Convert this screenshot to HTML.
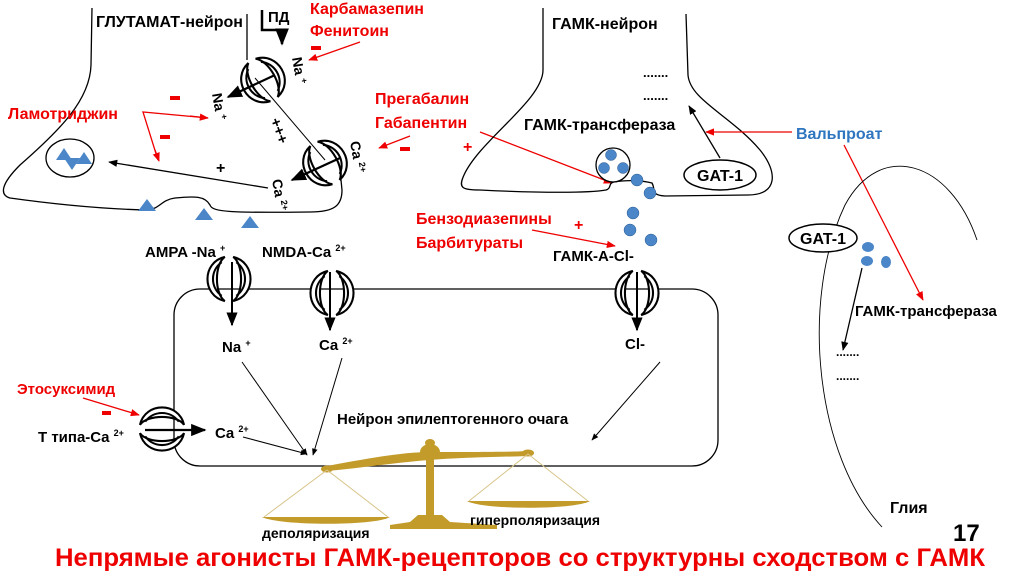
<!DOCTYPE html>
<html><head><meta charset="utf-8"><style>
html,body{margin:0;padding:0;background:#fff;}
svg{display:block;font-family:"Liberation Sans","DejaVu Sans",sans-serif;font-weight:bold;}
</style></head><body>
<svg width="1024" height="574" viewBox="0 0 1024 574" xmlns="http://www.w3.org/2000/svg">
<defs>
<marker id="ab" viewBox="0 0 10 10" refX="9" refY="5" markerWidth="7" markerHeight="7" orient="auto"><path d="M0,1 L10,5 L0,9 Z" fill="#000"/></marker>
<marker id="ar" viewBox="0 0 10 10" refX="9" refY="5" markerWidth="7" markerHeight="7" orient="auto"><path d="M0,1 L10,5 L0,9 Z" fill="#e00"/></marker>
<g id="ch">
<path d="M-4,-21 C-26,-16 -26,16 -4,21 C-14,14 -14,-14 -4,-21 Z" fill="#fff" stroke="#000" stroke-width="2"/>
<path d="M-7,-16 C-18,-8 -18,8 -7,16" fill="none" stroke="#000" stroke-width="2"/>
<path d="M4,-21 C26,-16 26,16 4,21 C14,14 14,-14 4,-21 Z" fill="#fff" stroke="#000" stroke-width="2"/>
<path d="M7,-16 C18,-8 18,8 7,16" fill="none" stroke="#000" stroke-width="2"/>
</g>
</defs>

<!-- Glutamate neuron outline -->
<path d="M92,8 L91,65 C90,100 60,130 20,165 C0,185 0,195 10,198 C60,205 110,209 145,210 C160,210 160,200 175,198 C195,196 205,196 210,205 C212,212 230,213 310,212 C335,212 342,205 342,190 L340,170" fill="none" stroke="#000" stroke-width="1.3"/>
<path d="M247,14 L247,60" fill="none" stroke="#000" stroke-width="1.3"/>
<path d="M255,78 L325,160" fill="none" stroke="#000" stroke-width="1"/>
<use href="#ch" transform="translate(263,80) rotate(-30) scale(1.05)"/>
<use href="#ch" transform="translate(325,163) rotate(-30) scale(1.05)"/>
<line x1="275" y1="75" x2="228" y2="97" stroke="#000" stroke-width="2.2" marker-end="url(#ab)"/>
<line x1="340" y1="158" x2="292" y2="180" stroke="#000" stroke-width="2.2" marker-end="url(#ab)"/>
<text x="96" y="27" font-size="16">ГЛУТАМАТ-нейрон</text>
<text x="268" y="22" font-size="15">ПД</text>
<path d="M262,10 L262,30 L282,30 L282,44" fill="none" stroke="#000" stroke-width="2.5" marker-end="url(#ab)"/>
<text x="310" y="14" font-size="16" fill="#e00">Карбамазепин</text>
<text x="310" y="36" font-size="16" fill="#e00">Фенитоин</text>
<rect x="311" y="46" width="10" height="4" fill="#e00"/>
<line x1="360" y1="42" x2="309" y2="60" stroke="#e00" stroke-width="1.3" marker-end="url(#ar)"/>
<text font-size="14" transform="translate(292,58) rotate(80)">Na <tspan font-size="9" dy="-5">+</tspan></text>
<text font-size="14" transform="translate(212,94) rotate(80)">Na <tspan font-size="9" dy="-5">+</tspan></text>
<text font-size="15" transform="translate(270,120) rotate(70)">+++</text>
<text font-size="14" transform="translate(350,142) rotate(80)">Ca <tspan font-size="9" dy="-5">2+</tspan></text>
<text font-size="14" transform="translate(272,180) rotate(80)">Ca <tspan font-size="9" dy="-5">2+</tspan></text>
<text x="8" y="119" font-size="16" fill="#e00">Ламотриджин</text>
<rect x="170" y="96" width="10" height="4" fill="#e00"/>
<rect x="160" y="135" width="10" height="4" fill="#e00"/>
<polyline points="208,118 143,112 158,160" fill="none" stroke="#e00" stroke-width="1.3"/>
<line x1="190" y1="116" x2="208" y2="118" stroke="#e00" stroke-width="1.3" marker-end="url(#ar)"/>
<line x1="155" y1="150" x2="159" y2="161" stroke="#e00" stroke-width="1.3" marker-end="url(#ar)"/>
<ellipse cx="70" cy="158" rx="24" ry="19" fill="none" stroke="#000" stroke-width="1.3"/>
<g fill="#4a86c8"><path d="M56,160 L64,148 L72,160Z"/><path d="M64,158 L80,158 L72,170Z"/><path d="M76,164 L84,152 L92,164Z"/></g>
<line x1="268" y1="188" x2="109" y2="162" stroke="#000" stroke-width="1.3" marker-end="url(#ab)"/>
<text x="216" y="173" font-size="16">+</text>
<g fill="#4a86c8"><path d="M138,211 L147,199 L156,211Z"/><path d="M195,220 L204,208 L213,220Z"/><path d="M241,228 L250,216 L259,228Z"/></g>

<!-- Pregabalin -->
<text x="375" y="104" font-size="16" fill="#e00">Прегабалин</text>
<text x="375" y="128" font-size="16" fill="#e00">Габапентин</text>
<rect x="400" y="147" width="10" height="4" fill="#e00"/>
<line x1="410" y1="136" x2="379" y2="148" stroke="#e00" stroke-width="1.3" marker-end="url(#ar)"/>
<text x="463" y="152" font-size="16" fill="#e00">+</text>
<line x1="480" y1="132" x2="612" y2="183" stroke="#e00" stroke-width="1.3" marker-end="url(#ar)"/>

<!-- GABA neuron -->
<path d="M543,8 L543,70 C543,100 480,140 464,175 C458,188 462,190 480,190 C540,193 590,193 606,190 C612,188 608,183 614,182 C625,180 640,180 652,183 C656,190 650,195 665,196 L748,195 C778,195 778,172 760,150 C730,115 690,100 688,75 L686,14" fill="none" stroke="#000" stroke-width="1.3"/>
<text x="552" y="29" font-size="16">ГАМК-нейрон</text>
<text x="643" y="77" font-size="13">.......</text>
<text x="643" y="100" font-size="13">.......</text>
<text x="524" y="130" font-size="16">ГАМК-трансфераза</text>
<ellipse cx="720" cy="175" rx="36" ry="15" fill="#fff" stroke="#000" stroke-width="1.5"/>
<text x="720" y="181" font-size="16" text-anchor="middle">GAT-1</text>
<line x1="720" y1="158" x2="689" y2="106" stroke="#000" stroke-width="1.3" marker-end="url(#ab)"/>
<text x="796" y="139" font-size="16" fill="#2f75c0">Вальпроат</text>
<line x1="792" y1="132" x2="706" y2="132" stroke="#e00" stroke-width="1.3" marker-end="url(#ar)"/>
<line x1="844" y1="145" x2="923" y2="300" stroke="#e00" stroke-width="1.3" marker-end="url(#ar)"/>
<circle cx="613" cy="165" r="17" fill="#fff" stroke="#000" stroke-width="1.3"/>
<g fill="#4a86c8" stroke="#2a5a90" stroke-width="0.5">
<circle cx="611" cy="155" r="5.5"/><circle cx="604" cy="168" r="5.5"/><circle cx="623" cy="168" r="5.5"/>
<circle cx="637" cy="180" r="6"/><circle cx="650" cy="193" r="6"/><circle cx="633" cy="213" r="6"/><circle cx="630" cy="230" r="6"/><circle cx="651" cy="240" r="6"/>
</g>
<text x="416" y="224" font-size="16" fill="#e00">Бензодиазепины</text>
<text x="416" y="248" font-size="16" fill="#e00">Барбитураты</text>
<text x="574" y="230" font-size="16" fill="#e00">+</text>
<line x1="532" y1="230" x2="615" y2="246" stroke="#e00" stroke-width="1.3" marker-end="url(#ar)"/>
<text x="553" y="261" font-size="15">ГАМК-А-Cl-</text>

<!-- Glia -->
<path d="M882,527 C815,455 800,300 845,205 C880,140 950,160 977,240" fill="none" stroke="#000" stroke-width="0.9"/>
<ellipse cx="823" cy="238" rx="34" ry="14" fill="#fff" stroke="#000" stroke-width="1.5"/>
<text x="823" y="244" font-size="16" text-anchor="middle">GAT-1</text>
<g fill="#4a86c8"><ellipse cx="868" cy="247" rx="6" ry="5"/><ellipse cx="867" cy="261" rx="6" ry="5"/><ellipse cx="886" cy="262" rx="5" ry="6"/></g>
<line x1="862" y1="268" x2="843" y2="350" stroke="#000" stroke-width="1.3" marker-end="url(#ab)"/>
<text x="855" y="316" font-size="15">ГАМК-трансфераза</text>
<text x="836" y="356" font-size="12">.......</text>
<text x="836" y="380" font-size="12">.......</text>
<text x="890" y="513" font-size="16">Глия</text>
<text x="953" y="541" font-size="24">17</text>

<!-- Epileptogenic neuron -->
<rect x="174" y="289" width="544" height="177" rx="26" fill="none" stroke="#000" stroke-width="1.3"/>
<use href="#ch" transform="translate(229,279) scale(1.05)"/>
<use href="#ch" transform="translate(332,293) scale(1.05)"/>
<use href="#ch" transform="translate(637,293) scale(1.05)"/>
<use href="#ch" transform="translate(162,429) rotate(90) scale(1.05)"/>
<line x1="232" y1="262" x2="232" y2="325" stroke="#000" stroke-width="2" marker-end="url(#ab)"/>
<line x1="330" y1="272" x2="330" y2="330" stroke="#000" stroke-width="2" marker-end="url(#ab)"/>
<line x1="637" y1="272" x2="637" y2="330" stroke="#000" stroke-width="2" marker-end="url(#ab)"/>
<line x1="145" y1="430" x2="205" y2="430" stroke="#000" stroke-width="2.2" marker-end="url(#ab)"/>
<text x="145" y="257" font-size="15">AMPA -Na <tspan font-size="9" dy="-6">+</tspan></text>
<text x="262" y="257" font-size="15">NMDA-Ca <tspan font-size="9" dy="-6">2+</tspan></text>
<text x="222" y="352" font-size="15">Na <tspan font-size="9" dy="-6">+</tspan></text>
<text x="319" y="350" font-size="15">Ca <tspan font-size="9" dy="-6">2+</tspan></text>
<text x="625" y="349" font-size="15">Cl-</text>
<text x="17" y="394" font-size="15" fill="#e00">Этосуксимид</text>
<rect x="102" y="411" width="9" height="4" fill="#e00"/>
<line x1="83" y1="398" x2="139" y2="415" stroke="#e00" stroke-width="1.3" marker-end="url(#ar)"/>
<text x="38" y="442" font-size="15">Т типа-Ca <tspan font-size="9" dy="-6">2+</tspan></text>
<text x="215" y="438" font-size="15">Ca <tspan font-size="9" dy="-6">2+</tspan></text>
<text x="337" y="424" font-size="15">Нейрон эпилептогенного очага</text>
<line x1="242" y1="362" x2="307" y2="455" stroke="#000" stroke-width="1" marker-end="url(#ab)"/>
<line x1="342" y1="358" x2="313" y2="455" stroke="#000" stroke-width="1" marker-end="url(#ab)"/>
<line x1="660" y1="362" x2="592" y2="440" stroke="#000" stroke-width="1" marker-end="url(#ab)"/>
<line x1="243" y1="437" x2="307" y2="454" stroke="#000" stroke-width="1" marker-end="url(#ab)"/>

<!-- Scales -->
<g fill="#c29b2b" stroke="none">
<path d="M327,466 C360,460 400,452 430,452 C470,452 510,452 528,451 L528,456 C500,457 470,457 430,460 C400,462 360,468 327,471 Z"/>
<ellipse cx="430" cy="452" rx="10" ry="8"/>
<ellipse cx="430" cy="443" rx="5" ry="4"/>
<rect x="426" y="455" width="8" height="60"/>
<path d="M418,515 L442,515 L450,522 L497,525 L497,529 L390,529 L390,525 L410,522 Z"/>
<ellipse cx="327" cy="469" rx="6" ry="3.5"/>
<ellipse cx="528" cy="453" rx="6" ry="3.5"/>
<path d="M262,517 L390,517 C375,526 280,526 262,517 Z"/>
<path d="M467,501 L590,501 C575,510 482,510 467,501 Z"/>
</g>
<g stroke="#d8c48a" stroke-width="1" fill="none">
<polyline points="264,517 327,470 388,517"/>
<polyline points="469,501 528,454 588,501"/>
</g>
<text x="262" y="538" font-size="14">деполяризация</text>
<text x="470" y="525" font-size="14">гиперполяризация</text>

<text x="520" y="566" font-size="25" fill="#e00" text-anchor="middle" textLength="930" lengthAdjust="spacingAndGlyphs">Непрямые агонисты ГАМК-рецепторов со структурны сходством с ГАМК</text>
</svg>
</body></html>
